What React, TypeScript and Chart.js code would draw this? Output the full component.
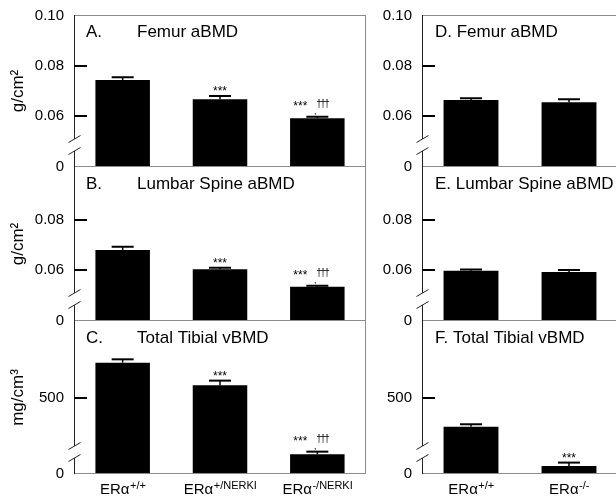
import React, { useEffect, useRef } from "react";
import { Chart, registerables } from "chart.js";

Chart.register(...registerables);

const FONT = '"Liberation Sans", Arial, Helvetica, sans-serif';

// ---- categories ----
const leftBase = ["ERα", "ERα", "ERα"];
const leftSup = ["+/+", "+/NERKI", "-/NERKI"];
const rightBase = ["ERα", "ERα"];
const rightSup = ["+/+", "-/-"];

// ---- series values (mean) and errors (SEM) ----
const femurLeft = [0.0744, 0.0667, 0.0591];
const femurLeftErr = [0.0011, 0.0013, 0.0006];
const spineLeft = [0.068, 0.0603, 0.0533];
const spineLeftErr = [0.0013, 0.0006, 0.0004];
const tibiaLeft = [732, 583, 130];
const tibiaLeftErr = [22, 31, 17];

const femurRight = [0.0664, 0.0655];
const femurRightErr = [0.0007, 0.0012];
const spineRight = [0.0597, 0.0592];
const spineRightErr = [0.0005, 0.0008];
const tibiaRight = [311, 53];
const tibiaRightErr = [16, 22];

// ---- significance marks ----
const leftStars = ["", "***", "***"];
const leftDaggers = ["", "", "†††"];
const rightStarsNone = ["", ""];
const rightStarsTibia = ["", "***"];
const rightDaggersNone = ["", ""];

// ---- tick labels ----
const aBMDTicksTop = [0.06, 0.08, 0.1];
const aBMDTicksMid = [0.06, 0.08];
const aBMDMarks = [0.06, 0.08];
const tibiaTicks = [500];
const tibiaMarks = [500];

// ---- titles ----
const letters = ["A.", "B.", "C.", "D.", "E.", "F."];
const titles = ["Femur aBMD", "Lumbar Spine aBMD", "Total Tibial vBMD"];
const yTitles = ["g/cm²", "g/cm²", "mg/cm³"];

interface PanelCfg {
  base: string[];
  sup: string[];
  values: number[];
  errors: number[];
  stars: string[];
  daggers: string[];
  letter: string;
  title: string;
  joined: boolean;
  min: number;
  max: number;
  ticks: number[];
  marks: number[];
  decimals: number;
  yTitle: string | null;
  left: number;
  top: number;
  width: number;
  height: number;
  yWidth: number;
  padTop: number;
  padBottom: number;
  padRight: number;
  xLabels: boolean;
  topBorder: boolean;
  rightBorder: boolean;
}

const aMin = 0.0396;

function makeOverlay(p: PanelCfg) {
  return {
    id: "overlay",
    afterDatasetsDraw(chart: any) {
      const { ctx, chartArea: a, scales } = chart;
      const x = scales.x;
      const y = scales.y;
      ctx.save();
      // frame
      ctx.strokeStyle = "#8c8c8c";
      ctx.lineWidth = 1;
      ctx.beginPath();
      if (p.topBorder) {
        ctx.moveTo(a.left, a.top + 0.5);
        ctx.lineTo(a.right, a.top + 0.5);
      }
      if (p.rightBorder) {
        ctx.moveTo(a.right - 0.5, a.top);
        ctx.lineTo(a.right - 0.5, a.bottom);
      }
      ctx.moveTo(a.left, a.bottom - 0.5);
      ctx.lineTo(a.right, a.bottom - 0.5);
      ctx.stroke();

      // y axis with break
      const ax = a.left + 0.5;
      const b1 = a.bottom - 28;
      const b2 = a.bottom - 16;
      ctx.strokeStyle = "#222";
      ctx.beginPath();
      ctx.moveTo(ax, a.top);
      ctx.lineTo(ax, b1);
      ctx.moveTo(ax, b2);
      ctx.lineTo(ax, a.bottom);
      ctx.moveTo(ax - 6, b1 + 3.5);
      ctx.lineTo(ax + 6, b1 - 3.5);
      ctx.moveTo(ax - 6, b2 + 3.5);
      ctx.lineTo(ax + 6, b2 - 3.5);
      ctx.stroke();

      // inward tick marks
      ctx.strokeStyle = "#000";
      ctx.lineWidth = 2;
      ctx.beginPath();
      p.marks.forEach((v) => {
        const py = Math.round(y.getPixelForValue(v));
        ctx.moveTo(a.left, py);
        ctx.lineTo(a.left + 13, py);
      });
      ctx.stroke();

      // error bars + annotations
      ctx.fillStyle = "#000";
      p.values.forEach((v, i) => {
        const cx = x.getPixelForValue(i);
        const yt = y.getPixelForValue(v);
        const ye = y.getPixelForValue(v + p.errors[i]);
        ctx.lineWidth = 1.5;
        ctx.beginPath();
        ctx.moveTo(cx, yt);
        ctx.lineTo(cx, ye);
        ctx.stroke();
        ctx.lineWidth = 2;
        ctx.beginPath();
        ctx.moveTo(cx - 11, ye);
        ctx.lineTo(cx + 11, ye);
        ctx.stroke();

        const st = p.stars[i];
        const dg = p.daggers[i];
        ctx.textBaseline = "alphabetic";
        ctx.textAlign = "center";
        if (st && !dg) {
          const cy = ye - 7;
          ctx.font = `12px ${FONT}`;
          ctx.fillText(st, cx, cy + 6);
        } else if (st && dg) {
          const cy = ye - 13;
          ctx.font = `12px ${FONT}`;
          ctx.fillText(st, cx - 17, cy + 6);
          ctx.font = `10px ${FONT}`;
          (ctx as any).letterSpacing = "-1.5px";
          ctx.fillText(dg, cx + 5, cy + 3);
          (ctx as any).letterSpacing = "0px";
          ctx.font = `9px ${FONT}`;
          ctx.fillText(",", cx - 2, ye - 3);
        }
      });

      // panel title
      ctx.textAlign = "left";
      ctx.textBaseline = "alphabetic";
      ctx.font = `17px ${FONT}`;
      ctx.fillStyle = "#000";
      if (p.joined) {
        ctx.fillText(`${p.letter} ${p.title}`, a.left + 13, a.top + 22);
      } else {
        ctx.fillText(p.letter, a.left + 12, a.top + 22);
        ctx.fillText(p.title, a.left + 63, a.top + 22);
      }

      // x labels with superscripts
      if (p.xLabels) {
        p.base.forEach((b, i) => {
          const cx = x.getPixelForValue(i);
          ctx.font = `15px ${FONT}`;
          const wb = ctx.measureText(b).width;
          ctx.font = `11px ${FONT}`;
          const ws = ctx.measureText(p.sup[i]).width;
          const start = cx - (wb + ws) / 2;
          ctx.font = `15px ${FONT}`;
          ctx.fillText(b, start, a.bottom + 20);
          ctx.font = `11px ${FONT}`;
          ctx.fillText(p.sup[i], start + wb + 0.5, a.bottom + 15);
        });
      }
      ctx.restore();
    },
  };
}

function Panel({ p }: { p: PanelCfg }) {
  const ref = useRef<HTMLCanvasElement | null>(null);
  useEffect(() => {
    if (!ref.current) return;
    const labels = p.base.map((b, i) => b + p.sup[i]);
    const chart = new Chart(ref.current, {
      type: "bar",
      data: {
        labels,
        datasets: [
          {
            data: p.values,
            backgroundColor: "#000",
            borderWidth: 0,
            barPercentage: 0.56,
            categoryPercentage: 1,
          },
        ],
      },
      options: {
        animation: false,
        responsive: false,
        devicePixelRatio: 1,
        layout: {
          padding: { left: 0, right: p.padRight, top: p.padTop, bottom: p.padBottom },
        },
        plugins: { legend: { display: false }, tooltip: { enabled: false } },
        scales: {
          x: { type: "category", display: false, offset: true },
          y: {
            type: "linear",
            min: p.min,
            max: p.max,
            afterBuildTicks: (s: any) => {
              s.ticks = [p.min, ...p.ticks].map((v) => ({ value: v }));
            },
            afterFit: (s: any) => {
              s.width = p.yWidth;
            },
            grid: { display: false, drawTicks: false },
            border: { display: false },
            ticks: {
              autoSkip: false,
              padding: 10,
              color: "#000",
              font: { family: FONT, size: 15 },
              callback: (v: any) =>
                Number(v) === p.min ? "0" : Number(v).toFixed(p.decimals),
            },
            title: {
              display: !!p.yTitle,
              text: p.yTitle || "",
              color: "#000",
              font: { family: FONT, size: 17 },
              padding: { top: 8, bottom: 0 },
            },
          },
        },
      },
      plugins: [makeOverlay(p)],
    } as any);
    return () => chart.destroy();
  }, [p]);
  return (
    <canvas
      ref={ref}
      width={p.width}
      height={p.height}
      style={{ position: "absolute", left: p.left, top: p.top }}
    />
  );
}

// chart areas: A 15-167, B 167-321, C 321-474 (padding 20 around)
const rows = [
  { top: -5, height: 192, padTop: 20, padBottom: 20 },
  { top: 147, height: 194, padTop: 20, padBottom: 20 },
  { top: 301, height: 195, padTop: 20, padBottom: 22 },
];

const leftCol = { left: 0, width: 370, yWidth: 74, padRight: 4 };
const rightCol = { left: 370, width: 252, yWidth: 52, padRight: 4 };

const panels: PanelCfg[] = [
  {
    ...leftCol, ...rows[0],
    base: leftBase, sup: leftSup, values: femurLeft, errors: femurLeftErr,
    stars: leftStars, daggers: leftDaggers, letter: letters[0], title: titles[0], joined: false,
    min: aMin, max: 0.1004, ticks: aBMDTicksTop, marks: aBMDMarks, decimals: 2,
    yTitle: yTitles[0], xLabels: false, topBorder: true, rightBorder: true,
  },
  {
    ...leftCol, ...rows[1],
    base: leftBase, sup: leftSup, values: spineLeft, errors: spineLeftErr,
    stars: leftStars, daggers: leftDaggers, letter: letters[1], title: titles[1], joined: false,
    min: aMin, max: 0.1012, ticks: aBMDTicksMid, marks: aBMDMarks, decimals: 2,
    yTitle: yTitles[1], xLabels: false, topBorder: false, rightBorder: true,
  },
  {
    ...leftCol, ...rows[2],
    base: leftBase, sup: leftSup, values: tibiaLeft, errors: tibiaLeftErr,
    stars: leftStars, daggers: leftDaggers, letter: letters[2], title: titles[2], joined: false,
    min: 0, max: 1006, ticks: tibiaTicks, marks: tibiaMarks, decimals: 0,
    yTitle: yTitles[2], xLabels: true, topBorder: false, rightBorder: true,
  },
  {
    ...rightCol, ...rows[0],
    base: rightBase, sup: rightSup, values: femurRight, errors: femurRightErr,
    stars: rightStarsNone, daggers: rightDaggersNone, letter: letters[3], title: titles[0], joined: true,
    min: aMin, max: 0.1004, ticks: aBMDTicksTop, marks: aBMDMarks, decimals: 2,
    yTitle: null, xLabels: false, topBorder: true, rightBorder: false,
  },
  {
    ...rightCol, ...rows[1],
    base: rightBase, sup: rightSup, values: spineRight, errors: spineRightErr,
    stars: rightStarsNone, daggers: rightDaggersNone, letter: letters[4], title: titles[1], joined: true,
    min: aMin, max: 0.1012, ticks: aBMDTicksMid, marks: aBMDMarks, decimals: 2,
    yTitle: null, xLabels: false, topBorder: false, rightBorder: false,
  },
  {
    ...rightCol, ...rows[2],
    base: rightBase, sup: rightSup, values: tibiaRight, errors: tibiaRightErr,
    stars: rightStarsTibia, daggers: rightDaggersNone, letter: letters[5], title: titles[2], joined: true,
    min: 0, max: 1006, ticks: tibiaTicks, marks: tibiaMarks, decimals: 0,
    yTitle: null, xLabels: true, topBorder: false, rightBorder: false,
  },
];

export default function App() {
  return (
    <div
      style={{
        position: "fixed",
        left: 0,
        top: 0,
        width: 616,
        height: 496,
        overflow: "hidden",
        background: "#fff",
      }}
    >
      {panels.map((p, i) => (
        <Panel key={i} p={p} />
      ))}
    </div>
  );
}
